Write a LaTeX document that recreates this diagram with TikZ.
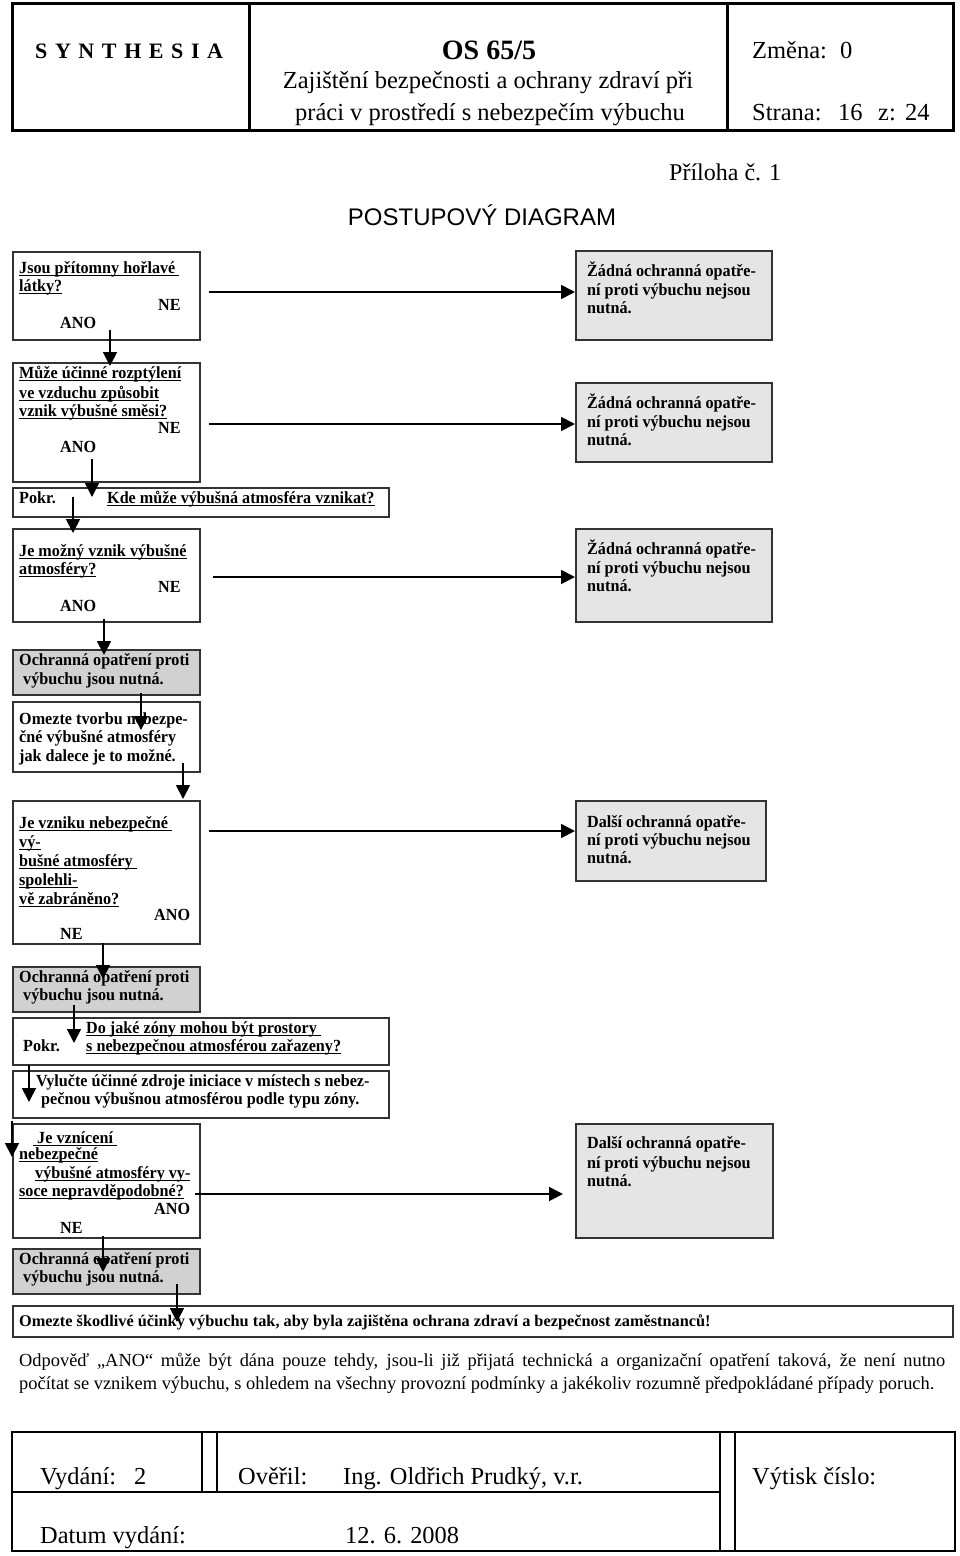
\documentclass[tikz,border=0pt]{standalone}
\usepackage{fontspec}
\setmainfont{Liberation Serif}
\newfontfamily\arialf{Liberation Sans}
\newfontfamily\fcf{Liberation Serif}[FakeStretch=0.95]
\usetikzlibrary{arrows.meta}
\newsavebox\ulbox
\newcommand\ulx[1]{\sbox\ulbox{#1}\rlap{\rule[-2.8pt]{\wd\ulbox}{1.3pt}}\usebox\ulbox}
\begin{document}
\begin{tikzpicture}[x=1pt,y=-1pt,
  bx/.style={draw=black!80,line width=1.5pt,anchor=north west,inner sep=0pt},
  lg/.style={bx,fill=black!10},
  dg/.style={bx,fill=black!18},
  ft/.style={anchor=west,inner sep=0pt,text height=11pt,text depth=0pt,font=\fontsize{17}{19}\fcf\bfseries},
  hd/.style={inner sep=0pt,text height=16pt,text depth=0pt,font=\fontsize{24.5}{29}\selectfont},
  fo/.style={anchor=west,inner sep=0pt,text height=16pt,text depth=0pt,font=\fontsize{24.4}{29}\selectfont},
  pa/.style={anchor=west,inner sep=0pt,text height=12pt,text depth=0pt,font=\fontsize{18.4}{23}\selectfont},
  conn/.style={line width=1.8pt,-{Triangle[length=14pt,width=14pt]}},
  frame/.style={line width=3pt},
]
\useasboundingbox (0,0) rectangle (960,1556);
% ---------- header ----------
\draw[frame] (12,3) rectangle (953,130);
\draw[frame] (249,3) -- (249,130);
\draw[frame] (727,3) -- (727,130);
\node[hd,anchor=west,font=\fontsize{22}{26}\selectfont\bfseries] (syn) at (35,50) {S\kern7.6pt Y\kern7.6pt N\kern7.6pt T\kern7.6pt H\kern7.6pt E\kern7.6pt S\kern7.6pt I\kern7.6pt A};
\node[hd,font=\fontsize{28}{32}\selectfont\bfseries,text height=19pt] (os) at (489,50) {OS 65/5};
\node[hd] (ti1) at (488,80) {Zajištění bezpečnosti a ochrany zdraví při};
\node[hd] (ti2) at (490,112) {práci v prostředí s nebezpečím výbuchu};
\node[hd,anchor=west] (zm) at (752,50) {Změna:};
\node[hd,anchor=west] (zm0) at (840,50) {0};
\node[hd,anchor=west] (st) at (752,112) {Strana:};
\node[hd,anchor=west] (st16) at (838,112) {16};
\node[hd,anchor=west] (stz) at (878,112) {z:};
\node[hd,anchor=west] (st24) at (905,112) {24};
\node[hd,anchor=west,font=\fontsize{24}{28}\selectfont] (pril) at (669,172) {Příloha č. 1};
\node[hd,font=\fontsize{24}{28}\arialf] (pd) at (482,217) {POSTUPOVÝ DIAGRAM};
% ---------- boxes ----------
\node[bx,minimum width=187pt,minimum height=88pt] (q1) at (12,251) {};
\node[lg,minimum width=196pt,minimum height=89pt] (n1) at (575,250) {};
\node[bx,minimum width=187pt,minimum height=119pt] (q2) at (12,362) {};
\node[lg,minimum width=196pt,minimum height=79pt] (n2) at (575,382) {};
\node[bx,minimum width=376pt,minimum height=29pt] (p1) at (12,487) {};
\node[bx,minimum width=187pt,minimum height=93pt] (q3) at (12,528) {};
\node[lg,minimum width=196pt,minimum height=93pt] (n3) at (575,528) {};
\node[dg,minimum width=187pt,minimum height=45pt] (gA) at (12,649) {};
\node[bx,minimum width=187pt,minimum height=70pt] (om) at (12,701) {};
\node[bx,minimum width=187pt,minimum height=143pt] (q4) at (12,800) {};
\node[lg,minimum width=190pt,minimum height=80pt] (n4) at (575,800) {};
\node[dg,minimum width=187pt,minimum height=45pt] (gB) at (12,966) {};
\node[bx,minimum width=376pt,minimum height=47pt] (p2) at (12,1017) {};
\node[bx,minimum width=376pt,minimum height=47pt] (vy) at (12,1070) {};
\node[bx,minimum width=187pt,minimum height=114pt] (q5) at (12,1123) {};
\node[lg,minimum width=197pt,minimum height=114pt] (n5) at (575,1123) {};
\node[dg,minimum width=187pt,minimum height=45pt] (gC) at (12,1248) {};
\node[bx,minimum width=940pt,minimum height=31pt] (fin) at (12,1305) {};
% ---------- box texts ----------
\node[ft] (q1a) at (19,268) {\ulx{Jsou přítomny hořlavé\ }};
\node[ft] (q1b) at (19,286) {\ulx{látky?}};
\node[ft] (q1ne) at (158,305) {NE};
\node[ft] (q1ano) at (60,323) {ANO};
\node[ft] (n1a) at (587,271) {Žádná ochranná opatře-};
\node[ft] (n1b) at (587,290) {ní proti výbuchu nejsou};
\node[ft] (n1c) at (587,308) {nutná.};
\node[ft] (q2a) at (19,373) {\ulx{Může účinné rozptýlení}};
\node[ft] (q2b) at (19,393) {\ulx{ve vzduchu způsobit}};
\node[ft] (q2c) at (19,411) {\ulx{vznik výbušné směsi?}};
\node[ft] (q2ne) at (158,428) {NE};
\node[ft] (q2ano) at (60,447) {ANO};
\node[ft] (n2a) at (587,403) {Žádná ochranná opatře-};
\node[ft] (n2b) at (587,422) {ní proti výbuchu nejsou};
\node[ft] (n2c) at (587,440) {nutná.};
\node[ft] (p1a) at (19,498) {Pokr.};
\node[ft] (p1b) at (107,498) {\ulx{Kde může výbušná atmosféra vznikat?}};
\node[ft] (q3a) at (19,551) {\ulx{Je možný vznik výbušné}};
\node[ft] (q3b) at (19,569) {\ulx{atmosféry?}};
\node[ft] (q3ne) at (158,587) {NE};
\node[ft] (q3ano) at (60,606) {ANO};
\node[ft] (n3a) at (587,549) {Žádná ochranná opatře-};
\node[ft] (n3b) at (587,568) {ní proti výbuchu nejsou};
\node[ft] (n3c) at (587,586) {nutná.};
\node[ft] (gAa) at (19,660) {Ochranná opatření proti};
\node[ft] (gAb) at (23,679) {výbuchu jsou nutná.};
\node[ft] (oma) at (19,719) {Omezte tvorbu nebezpe-};
\node[ft] (omb) at (19,737) {čné výbušné atmosféry};
\node[ft] (omc) at (19,756) {jak dalece je to možné.};
\node[ft] (q4a) at (19,823) {\ulx{Je vzniku nebezpečné\ }};
\node[ft] (q4b) at (19,842) {\ulx{vý-}};
\node[ft] (q4c) at (19,861) {\ulx{bušné atmosféry\ }};
\node[ft] (q4d) at (19,880) {\ulx{spolehli-}};
\node[ft] (q4e) at (19,899) {\ulx{vě zabráněno?}};
\node[ft] (q4ano) at (154,915) {ANO};
\node[ft] (q4ne) at (60,934) {NE};
\node[ft] (n4a) at (587,822) {Další ochranná opatře-};
\node[ft] (n4b) at (587,840) {ní proti výbuchu nejsou};
\node[ft] (n4c) at (587,858) {nutná.};
\node[ft] (gBa) at (19,977) {Ochranná opatření proti};
\node[ft] (gBb) at (23,995) {výbuchu jsou nutná.};
\node[ft] (p2a) at (86,1028) {\ulx{Do jaké zóny mohou být prostory\ }};
\node[ft] (p2b) at (23,1046) {Pokr.};
\node[ft] (p2c) at (86,1046) {\ulx{s nebezpečnou atmosférou zařazeny?}};
\node[ft] (vya) at (36,1081) {Vylučte účinné zdroje iniciace v místech s nebez-};
\node[ft] (vyb) at (41,1099) {pečnou výbušnou atmosférou podle typu zóny.};
\node[ft] (q5a) at (33,1138) {\ulx{\ Je vznícení\ }};
\node[ft] (q5b) at (19,1154) {\ulx{nebezpečné}};
\node[ft] (q5c) at (35,1173) {\ulx{výbušné atmosféry vy-}};
\node[ft] (q5d) at (19,1191) {\ulx{soce nepravděpodobné?}};
\node[ft] (q5ano) at (154,1209) {ANO};
\node[ft] (q5ne) at (60,1228) {NE};
\node[ft] (n5a) at (587,1143) {Další ochranná opatře-};
\node[ft] (n5b) at (587,1163) {ní proti výbuchu nejsou};
\node[ft] (n5c) at (587,1181) {nutná.};
\node[ft] (gCa) at (19,1259) {Ochranná opatření proti};
\node[ft] (gCb) at (23,1277) {výbuchu jsou nutná.};
\node[ft,font=\fontsize{16.3}{19}\selectfont\bfseries] (fina) at (19,1321) {Omezte škodlivé účinky výbuchu tak, aby byla zajištěna ochrana zdraví a bezpečnost zaměstnanců!};
% ---------- connectors ----------
\coordinate (a1s) at (110,330); \coordinate (a1e) at (110,366);
\coordinate (a2s) at (92,459);  \coordinate (a2e) at (92,497);
\coordinate (a3s) at (73,497);  \coordinate (a3e) at (73,533);
\coordinate (a4s) at (104,619); \coordinate (a4e) at (104,655);
\coordinate (a5s) at (141,693); \coordinate (a5e) at (141,730);
\coordinate (a6s) at (183,763); \coordinate (a6e) at (183,799);
\coordinate (a7s) at (103,943); \coordinate (a7e) at (103,979);
\coordinate (a8s) at (74,1005); \coordinate (a8e) at (74,1043);
\coordinate (a9s) at (29,1065); \coordinate (a9e) at (29,1102);
\coordinate (a10s) at (12,1121); \coordinate (a10e) at (12,1157);
\coordinate (a11s) at (103,1236); \coordinate (a11e) at (103,1272);
\coordinate (a12s) at (177,1284); \coordinate (a12e) at (177,1322);
\draw[conn] (a1s) -- (a1e);
\draw[conn] (a2s) -- (a2e);
\draw[conn] (a3s) -- (a3e);
\draw[conn] (a4s) -- (a4e);
\draw[conn] (a5s) -- (a5e);
\draw[conn] (a6s) -- (a6e);
\draw[conn] (a7s) -- (a7e);
\draw[conn] (a8s) -- (a8e);
\draw[conn] (a9s) -- (a9e);
\draw[conn] (a10s) -- (a10e);
\draw[conn] (a11s) -- (a11e);
\draw[conn] (a12s) -- (a12e);
\coordinate (h1) at (209,292);
\coordinate (h2) at (209,424);
\coordinate (h3) at (213,577);
\coordinate (h4) at (209,831);
\coordinate (h5) at (195,1194);
\coordinate (h5e) at (563,1194);
\draw[conn] (h1) -- (n1.west |- h1);
\draw[conn] (h2) -- (n2.west |- h2);
\draw[conn] (h3) -- (n3.west |- h3);
\draw[conn] (h4) -- (n4.west |- h4);
\draw[conn] (h5) -- (h5e);
% ---------- note ----------
\node[pa] (pa1) at (19,1360) {\makebox[926pt][s]{Odpověď „ANO“ může být dána pouze tehdy, jsou-li již přijatá technická a organizační opatření taková, že není nutno}};
\node[pa] (pa2) at (19,1383) {počítat se vznikem výbuchu, s ohledem na všechny provozní podmínky a jakékoliv rozumně předpokládané případy poruch.};
% ---------- footer ----------
\draw[line width=2.5pt] (12,1432) rectangle (955,1551);
\draw[line width=2.5pt] (12,1492) -- (720,1492);
\draw[line width=1.5pt] (202,1432) -- (202,1492);
\draw[line width=1.5pt] (217,1432) -- (217,1492);
\draw[line width=1.5pt] (720,1432) -- (720,1551);
\draw[line width=1.5pt] (735,1432) -- (735,1551);
\node[fo] (fv) at (40,1476) {Vydání:};
\node[fo] (fv2) at (134,1476) {2};
\node[fo] (fo1) at (238,1476) {Ověřil:};
\node[fo] (fo2) at (343,1476) {Ing. Oldřich Prudký, v.r.};
\node[fo] (fvy) at (752,1476) {Výtisk číslo:};
\node[fo] (fd) at (40,1535) {Datum vydání:};
\node[fo] (fd2) at (345,1535) {12. 6. 2008};
\end{tikzpicture}
\end{document}
